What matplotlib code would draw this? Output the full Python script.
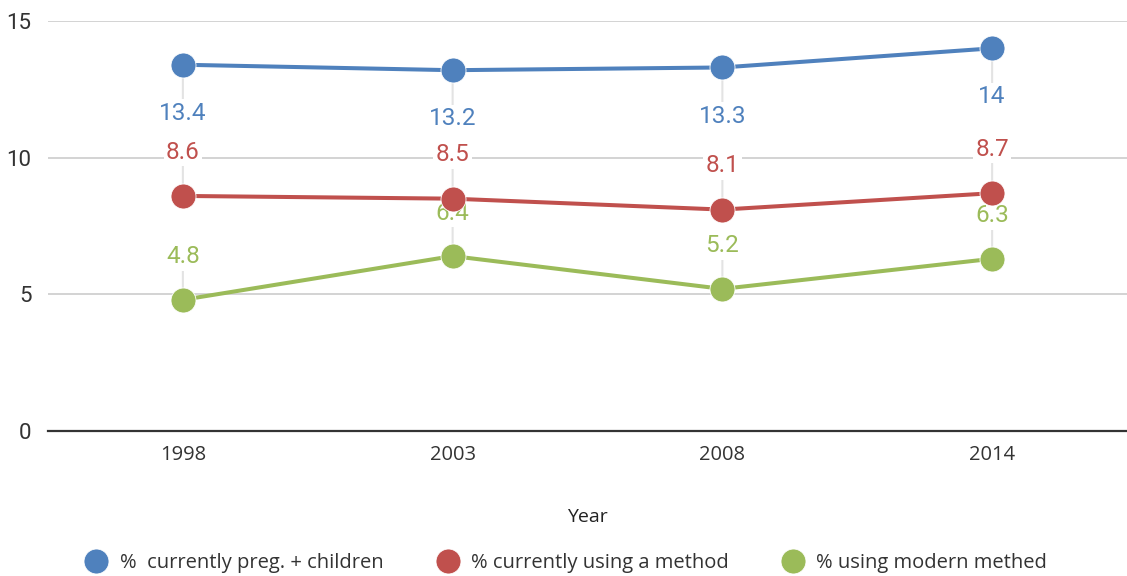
import matplotlib
matplotlib.use("Agg")
import matplotlib.pyplot as plt

years = ["1998", "2003", "2008", "2014"]
preg_children = [13.4, 13.2, 13.3, 14]
using_method = [8.6, 8.5, 8.1, 8.7]
modern_method = [4.8, 6.4, 5.2, 6.3]
series_names = ["%  currently preg. + children", "% currently using a method", "% using modern methed"]
colors = ["#4f81bd", "#c0504d", "#9bbb59"]
y_ticks = [0, 5, 10, 15]

plt.rcParams["font.family"] = ["Roboto", "DejaVu Sans"]

fig = plt.figure(figsize=(11.27, 5.76), dpi=100)
ax = fig.add_axes([48 / 1127, 1 - 431 / 576, 1 - 48 / 1127, (431 - 21) / 576])

x = list(range(len(years)))
series = [preg_children, using_method, modern_method]
label_offsets = [-35, 31.5, 31]  # points; blue below, others above

for vals, col, name, off in zip(series, colors, series_names, label_offsets):
    ax.plot(x, vals, color=col, lw=2.9, marker="o", ms=18, mec="white", mew=0.6,
            label=name, zorder=4, solid_capstyle="round")
    for xi, v in zip(x, vals):
        ax.annotate(f"{v:g}", xy=(xi, v), xytext=(0, off), textcoords="offset points",
                    ha="center", va="center", fontsize=17.5, color=col, zorder=3,
                    bbox=dict(boxstyle="square,pad=0.1", fc="white", ec="none"),
                    arrowprops=dict(arrowstyle="-", color="#e3e3e3", lw=1.5,
                                    shrinkA=0, shrinkB=6))

ax.set_xlim(-0.5, len(years) - 0.5)
ax.set_ylim(0, 15)
ax.set_yticks(y_ticks)
ax.set_xticks(x)
ax.set_xticklabels(years, fontfamily="Open Sans", fontsize=14.5, color="#333333")
ax.tick_params(axis="y", length=0, pad=12, labelsize=16, labelcolor="#333333")
ax.tick_params(axis="x", length=0, pad=10)
for lbl in ax.get_yticklabels():
    lbl.set_horizontalalignment("right")

ax.grid(axis="y", color="#d0d0d0", lw=1.3)
ax.set_axisbelow(True)
for s in ["top", "right", "left"]:
    ax.spines[s].set_visible(False)
ax.spines["bottom"].set_color("#333333")
ax.spines["bottom"].set_linewidth(1.6)
ax.spines["bottom"].set_zorder(2)

ax.set_xlabel("Year", fontfamily="Open Sans", fontsize=14, color="#222222", labelpad=31)

handles = [plt.Line2D([], [], ls="none", marker="o", ms=18, color=c, mec="white", mew=0.6)
           for c in colors]
fig.legend(handles, series_names, loc="center", bbox_to_anchor=(0.502, 1 - 563 / 576),
           ncol=3, frameon=False, prop=dict(family="Open Sans", size=14.5),
           handletextpad=0.55, columnspacing=2.6, handlelength=1.2, labelcolor="#333333")

fig.savefig("out.png", dpi=100)
